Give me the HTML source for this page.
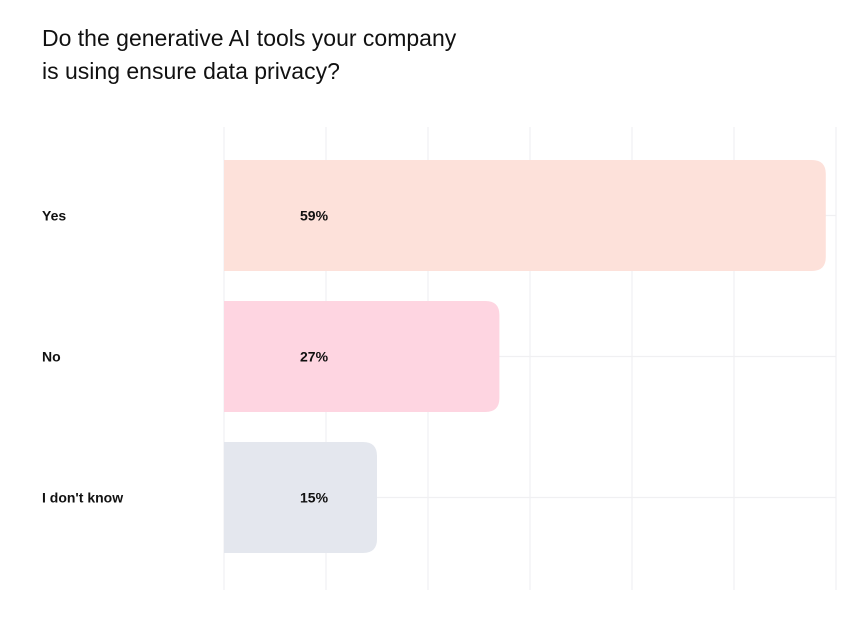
<!DOCTYPE html>
<html><head><meta charset="utf-8"><style>
body{margin:0;background:#fff;width:865px;height:618px;overflow:hidden;font-family:"Liberation Sans",sans-serif;}
#title{position:absolute;left:42px;top:22px;font-size:23px;line-height:33px;color:#111;margin:0;font-weight:normal;}
svg{position:absolute;left:0;top:0;}
</style></head><body>
<h1 id="title">Do the generative AI tools your company<br>is using ensure data privacy?</h1>
<svg id="chart" width="865" height="618"></svg>
<script>
const categories=["Yes","No","I don't know"];
const values=[59,27,15];
const valueLabels=["59%","27%","15%"];
const colors=["#fde1da","#fed5e1","#e4e7ee"];
const gridTicks=[0,10,20,30,40,50,60];
const NS="http://www.w3.org/2000/svg";
const svg=document.getElementById('chart');
const x0=224,pxPer=10.2;
const x=v=>x0+v*pxPer;
const y0=160,step=141,bh=111;
const y=i=>y0+i*step;
function mk(t,a){const e=document.createElementNS(NS,t);for(const k in a)e.setAttribute(k,a[k]);svg.appendChild(e);return e;}
gridTicks.forEach((t,i)=>{
 const l=mk('line',{x1:x(t),x2:x(t),y1:127,y2:590,stroke:'#f0f0f2','stroke-width':1.2});
 
 
});
categories.forEach((c,i)=>{
 const l=mk('line',{x1:x0,x2:x(60),y1:y(i)+bh/2,y2:y(i)+bh/2,stroke:'#f0f0f2','stroke-width':1.2});
 
 
});
categories.forEach((c,i)=>{
 const w=x(values[i])-x0,r=14,yy=y(i);
 const p=mk('path',{d:`M${x0},${yy}H${x0+w-r}Q${x0+w},${yy} ${x0+w},${yy+r}V${yy+bh-r}Q${x0+w},${yy+bh} ${x0+w-r},${yy+bh}H${x0}Z`,fill:colors[i]});
 
 
 const v=mk('text',{x:300,y:yy+bh/2+5,'font-size':14,'font-weight':'bold',fill:'#111','font-family':'Liberation Sans, sans-serif'});
 v.textContent=valueLabels[i];
 
 
 const t=mk('text',{x:42,y:yy+bh/2+5,'font-size':14,'font-weight':'bold',fill:'#111','font-family':'Liberation Sans, sans-serif'});
 t.textContent=c;
 
 
});
</script>
</body></html>
